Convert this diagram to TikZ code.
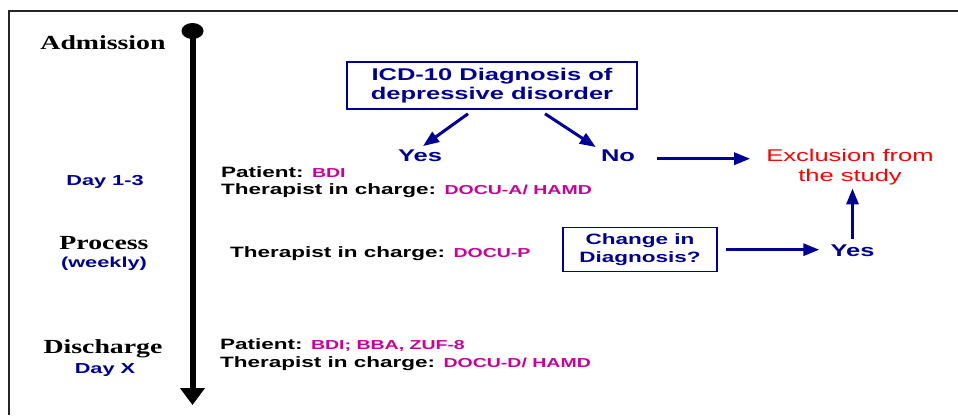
\documentclass[tikz,border=0pt]{standalone}
\usepackage{fontspec}
\usetikzlibrary{arrows.meta,shapes.geometric}
\newfontfamily\sansB[FakeStretch=1.5]{Liberation Sans}
\newfontfamily\serifB[FakeStretch=1.39]{Liberation Serif}
\definecolor{navy}{RGB}{0,0,153}
\definecolor{mag}{RGB}{204,0,153}
\definecolor{exred}{RGB}{255,0,0}
\newcommand\instr[1]{{\color{mag}\fontsize{13}{17}\selectfont #1}}
\tikzset{
  phase/.style={inner sep=0, anchor=base, font=\serifB\bfseries\fontsize{20}{24}\selectfont},
  day/.style={inner sep=0, anchor=base, text=navy, font=\sansB\bfseries\fontsize{14.5}{17}\selectfont},
  info/.style={inner sep=0, anchor=base west, font=\sansB\bfseries\fontsize{15}{17}\selectfont},
  decision/.style={draw=navy, line width=1.5pt, inner sep=0, text=navy, align=center},
  ans/.style={inner sep=0, anchor=base, text=navy, font=\sansB\bfseries\fontsize{17}{20}\selectfont},
  excl/.style={inner sep=0, text=exred, align=center, font=\sansB\fontsize{17}{20}\selectfont},
  arr/.style={draw=navy, line width=3pt, -{Triangle[width=12pt,length=16pt]}},
}
\begin{document}
\begin{tikzpicture}[x=1pt,y=-1pt]
\useasboundingbox (0,0) rectangle (958,415);
\draw[line width=2pt, black!85] (958,11) -- (9,11) -- (9,415);

% timeline
\node[ellipse, fill=black, minimum width=22pt, minimum height=16pt, inner sep=0] (top) at (192.5,31) {};
\coordinate (bot) at (192.5,405);
\draw[line width=6pt, -{Triangle[width=24pt,length=17pt]}] (top.center) -- (bot);

% phase labels
\node[phase] (adm) at (103,49) {Admission};
\node[day] (d13) at (105,185.7) {Day 1-3};
\node[phase] (proc) at (104,249) {Process};
\node[day] (wk) at (104,267) {(weekly)};
\node[phase] (dis) at (103,353) {Discharge};
\node[day] (dx) at (105,373) {Day X};

% instruments
\node[info] (p1) at (221,177.3) {Patient: \instr{BDI}};
\node[info] (t1) at (221,194.3) {Therapist in charge: \instr{DOCU-A/ HAMD}};
\node[info] (t2) at (230,257.3) {Therapist in charge: \instr{DOCU-P}};
\node[info] (p3) at (220,349) {Patient: \instr{BDI; BBA, ZUF-8}};
\node[info] (t3) at (220,367) {Therapist in charge: \instr{DOCU-D/ HAMD}};

% decisions
\node[decision, minimum width=290pt, minimum height=47pt,
      font=\sansB\bfseries\fontsize{17}{19.3}\selectfont] (icd) at (492,85.5)
      {ICD-10 Diagnosis of\\depressive disorder};
\node[ans] (yes1) at (420,161) {Yes};
\node[ans] (no1) at (618,161) {No};
\node[excl] (excl) at (850,167.3) {Exclusion from\\the study};
\node[decision, minimum width=154pt, minimum height=44pt,
      font=\sansB\bfseries\fontsize{15}{18.3}\selectfont] (chg) at (640,249.7)
      {Change in\\Diagnosis?};
\node[ans] (yes2) at (852.5,256) {Yes};

% connectors
\draw[arr] ([xshift=-24pt,yshift=-4pt]icd.south) -- ([xshift=3pt,yshift=3pt]yes1.north);
\draw[arr] ([xshift=53pt,yshift=-4pt]icd.south) -- ([xshift=-5pt,yshift=2pt]no1.north west);
\draw[arr, shorten <=22pt, shorten >=16pt] ([yshift=2.3pt]no1.base east) -- ([yshift=2.3pt]no1.base east -| excl.west);
\draw[arr, shorten <=5pt, shorten >=3pt] (yes2.north) -- (yes2.north |- excl.south);
\draw[arr, shorten <=8pt, shorten >=11pt] (chg.east) -- (chg.east -| yes2.west);
\end{tikzpicture}
\end{document}
